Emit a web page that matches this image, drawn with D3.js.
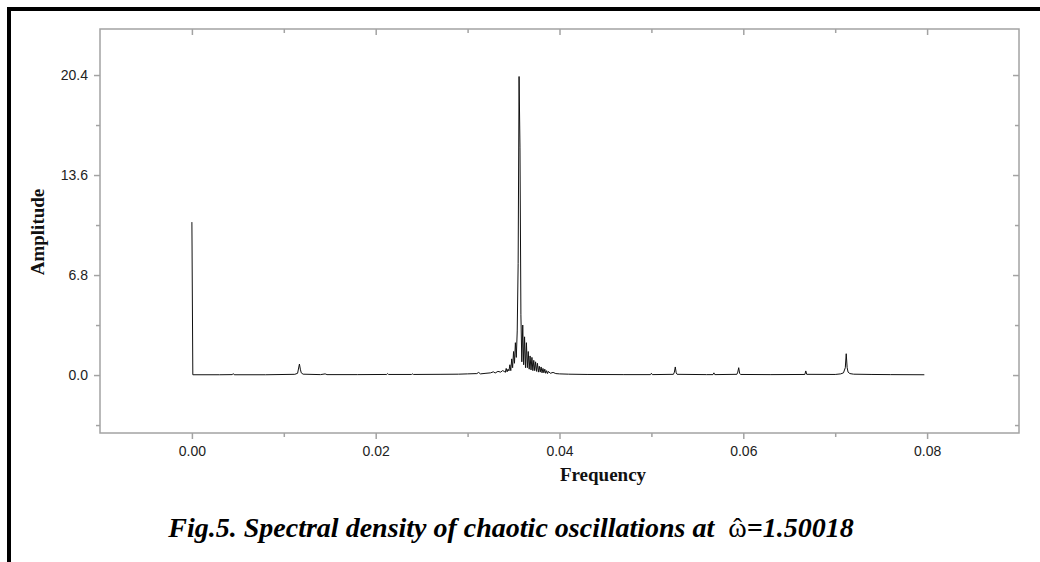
<!DOCTYPE html>
<html>
<head>
<meta charset="utf-8">
<script src="https://cdn.jsdelivr.net/npm/d3@7"></script>
<style>
body{margin:0;background:#fff}
svg{display:block}
</style>
</head>
<body>
<svg id="svg" width="1040" height="562"></svg>
<script>
// spectrum (frequency, amplitude), rows kept aligned
var freqs=[0.0000,0.0001,0.0030,0.0044,0.0045,0.0046,0.0080,0.0112,0.0115,0.0117,
  0.0118,0.0119,0.0121,0.0140,0.0145,0.0147,0.0180,0.0212,0.0213,0.0214,
  0.0239,0.0240,0.0241,0.0270,0.0290,0.0300,0.0310,0.0312,0.0314,0.0320,
  0.0325,0.0328,0.0330,0.0333,0.0336,0.0338,0.0340,0.0341,0.0342,0.0343,
  0.0344,0.0345,0.0346,0.0347,0.0348,0.0349,0.0350,0.0351,0.0352,0.0353,
  0.0354,0.0355,0.0356,0.0357,0.0358,0.0359,0.0360,0.0361,0.0362,0.0363,
  0.0364,0.0365,0.0366,0.0367,0.0368,0.0369,0.0370,0.0371,0.0372,0.0373,
  0.0374,0.0375,0.0376,0.0377,0.0378,0.0379,0.0380,0.0381,0.0382,0.0383,
  0.0384,0.0385,0.0386,0.0387,0.0388,0.0390,0.0393,0.0396,0.0400,0.0410,
  0.0430,0.0470,0.0499,0.0500,0.0501,0.0524,0.0525,0.0526,0.0527,0.0528,
  0.0560,0.0567,0.0568,0.0569,0.0593,0.0594,0.0595,0.0596,0.0597,0.0630,
  0.0667,0.0668,0.0669,0.0700,0.0706,0.0709,0.0711,0.0712,0.0713,0.0714,
  0.0716,0.0720,0.0740,0.0760,0.0797];
var amps=[10.4,0.02,0.02,0.03,0.10,0.02,0.02,0.05,0.12,0.75,
  0.40,0.15,0.06,0.03,0.08,0.03,0.03,0.04,0.10,0.04,
  0.04,0.08,0.04,0.05,0.06,0.08,0.10,0.18,0.08,0.12,
  0.15,0.22,0.14,0.25,0.20,0.30,0.25,0.18,0.45,0.22,
  0.40,0.28,0.70,0.30,1.10,0.50,1.60,0.80,2.20,1.20,
  3.00,7.60,20.30,15.50,4.10,0.90,3.40,0.70,2.60,0.50,
  2.20,0.50,1.60,0.40,1.30,0.35,1.20,0.30,1.00,0.30,
  0.90,0.25,0.80,0.20,0.60,0.20,0.55,0.15,0.45,0.15,
  0.40,0.12,0.30,0.10,0.25,0.12,0.18,0.10,0.08,0.06,
  0.04,0.03,0.03,0.12,0.03,0.05,0.20,0.55,0.15,0.05,
  0.03,0.03,0.15,0.03,0.05,0.20,0.50,0.12,0.04,0.03,
  0.04,0.28,0.05,0.04,0.08,0.15,0.50,1.45,0.50,0.20,
  0.10,0.06,0.04,0.03,0.02];

var xTicks=[0,0.02,0.04,0.06,0.08];
var xMinor=[0.01,0.03,0.05,0.07];
var yTicks=[0,6.8,13.6,20.4];
var yMinor=[-3.4,3.4,10.2,17.0];

var svg=d3.select("#svg");
var plotLeft=100,plotTop=29,plotRight=1019,plotBottom=433;
var axisColor="#a3a3a3";

var x=d3.scaleLinear().domain([-0.01,0.09]).range([plotLeft,plotRight]);
var y=d3.scaleLinear().domain([-3.94,23.53]).range([plotBottom,plotTop]);

// black page border (top and left only)
svg.append("rect").attr("x",7).attr("y",7).attr("width",1033).attr("height",4).style("fill","#000");
svg.append("rect").attr("x",7).attr("y",7).attr("width",4).attr("height",555).style("fill","#000");

function styleAxis(g){
    g.select(".domain").remove();
    g.selectAll("line").style("stroke",axisColor).style("stroke-width","1.5px");
    g.selectAll("text").style("fill","#222").style("font-family","'Liberation Sans',Arial,sans-serif").style("font-size","14px");
}

//bottom axis + minor
svg.append("g").attr("transform","translate(0,"+plotBottom+")")
    .call(d3.axisBottom(x).tickValues(xTicks).tickFormat(d3.format(".2f")).tickSize(6).tickPadding(7).tickSizeOuter(0))
    .call(styleAxis);
svg.append("g").attr("transform","translate(0,"+plotBottom+")")
    .call(d3.axisBottom(x).tickValues(xMinor).tickFormat("").tickSize(4).tickSizeOuter(0))
    .call(styleAxis);
//top axis, ticks inward
svg.append("g").attr("transform","translate(0,"+plotTop+")")
    .call(d3.axisBottom(x).tickValues(xTicks).tickFormat("").tickSize(6).tickSizeOuter(0))
    .call(styleAxis);
svg.append("g").attr("transform","translate(0,"+plotTop+")")
    .call(d3.axisBottom(x).tickValues(xMinor).tickFormat("").tickSize(4).tickSizeOuter(0))
    .call(styleAxis);
//left axis + minor
svg.append("g").attr("transform","translate("+plotLeft+",0)")
    .call(d3.axisLeft(y).tickValues(yTicks).tickFormat(d3.format(".1f")).tickSize(6).tickPadding(6).tickSizeOuter(0))
    .call(styleAxis);
svg.append("g").attr("transform","translate("+plotLeft+",0)")
    .call(d3.axisLeft(y).tickValues(yMinor).tickFormat("").tickSize(4).tickSizeOuter(0))
    .call(styleAxis);
//right axis, ticks inward
svg.append("g").attr("transform","translate("+plotRight+",0)")
    .call(d3.axisLeft(y).tickValues(yTicks).tickFormat("").tickSize(6).tickSizeOuter(0))
    .call(styleAxis);
svg.append("g").attr("transform","translate("+plotRight+",0)")
    .call(d3.axisLeft(y).tickValues(yMinor).tickFormat("").tickSize(4).tickSizeOuter(0))
    .call(styleAxis);

//frame
svg.append("rect")
    .attr("x",plotLeft).attr("y",plotTop)
    .attr("width",plotRight-plotLeft).attr("height",plotBottom-plotTop)
    .style("fill","none").style("stroke",axisColor).style("stroke-width","1.5px");

//spectrum line
var line=d3.line().x((d,i)=>x(freqs[i])).y(d=>y(d));
svg.append("path")
    .datum(amps)
    .attr("d",line)
    .style("fill","none")
    .style("stroke","#111")
    .style("stroke-width","1px");

//axis titles
svg.append("text")
    .text("Amplitude")
    .attr("transform","translate(44,232) rotate(-90)")
    .attr("text-anchor","middle")
    .style("font-family","'Liberation Serif','Times New Roman',serif")
    .style("font-weight","bold")
    .style("font-size","19px")
    .style("fill","#111");

svg.append("text")
    .text("Frequency")
    .attr("x",603).attr("y",481)
    .attr("text-anchor","middle")
    .style("font-family","'Liberation Serif','Times New Roman',serif")
    .style("font-weight","bold")
    .style("font-size","19px")
    .style("fill","#111");

//caption
var capFont="'Liberation Serif','Times New Roman',serif";
var capY=537;
var cap=svg.append("text")
    .attr("x",511).attr("y",capY)
    .attr("text-anchor","middle")
    .style("font-family",capFont)
    .style("font-weight","bold")
    .style("font-style","italic")
    .style("font-size","28px")
    .style("fill","#000");
var capPre="Fig.5. Spectral density of chaotic oscillations at ";
cap.append("tspan").text(capPre);
cap.append("tspan").text("\u03C9").attr("dx",7).style("font-style","normal").style("font-weight","normal");
cap.append("tspan").text("=1.50018");

// hat over omega
var ext=cap.node().getExtentOfChar(capPre.length);
svg.append("text")
    .text("\u02C6")
    .attr("x",ext.x+ext.width/2).attr("y",capY-1)
    .attr("text-anchor","middle")
    .style("font-family",capFont)
    .style("font-size","26px")
    .style("fill","#000");
</script>
</body>
</html>
